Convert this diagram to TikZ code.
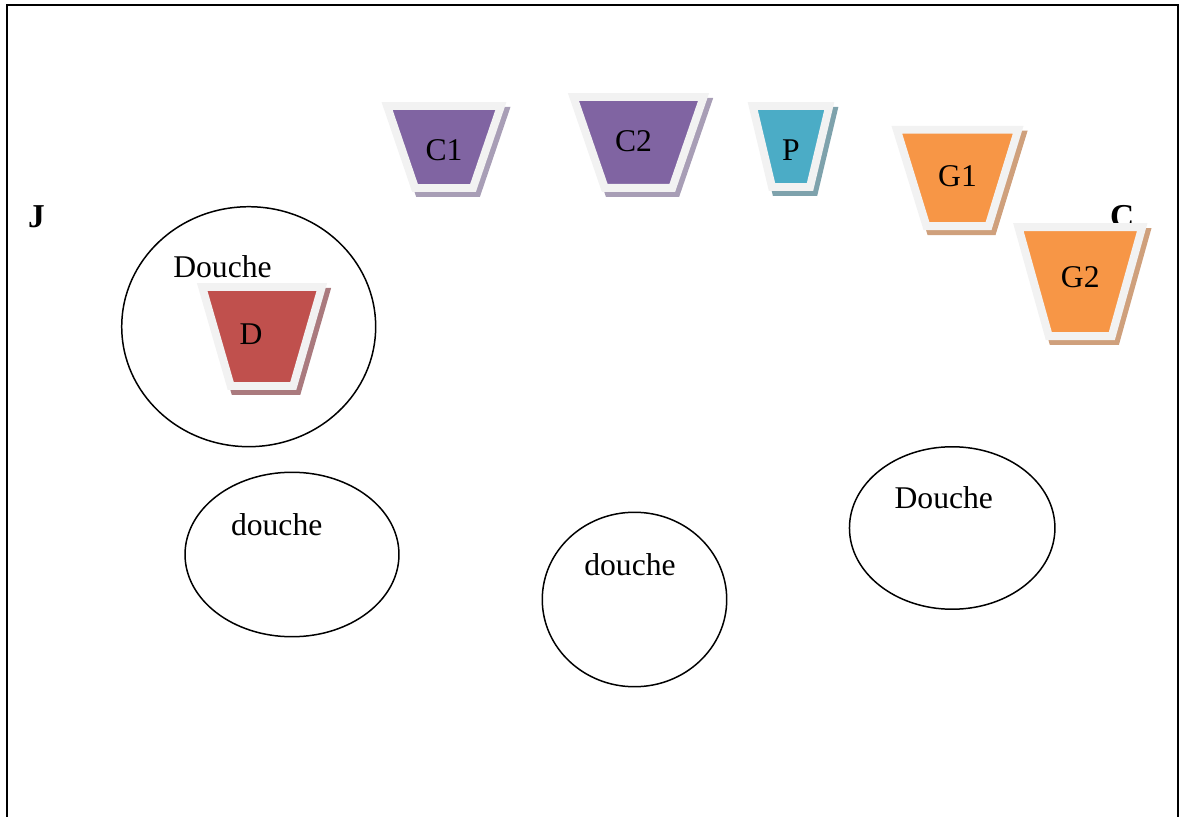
\documentclass[tikz,border=0pt]{standalone}
\usepackage{fontspec}
\setmainfont{Liberation Serif}
\usepackage{tikz}
\usetikzlibrary{shapes.geometric}
\usetikzlibrary{shadows}

\definecolor{bacgris}{HTML}{F2F2F2}
\definecolor{violet}{HTML}{8064A2}
\definecolor{rouge}{HTML}{C0504D}
\definecolor{bleu}{HTML}{4BACC6}
\definecolor{orange}{HTML}{F79646}
\definecolor{ombreviolet}{HTML}{A89EB6}
\definecolor{ombrerouge}{HTML}{AA7A7E}
\definecolor{ombrebleu}{HTML}{7EA2AC}
\definecolor{ombreorange}{HTML}{CFA07C}

\begin{document}
\begin{tikzpicture}[
    x=0.02cm,y=-0.02cm,
    bac/.style={trapezium,shape border rotate=180,draw=bacgris,line width=4.54pt,inner sep=0pt,align=center,font=\fontsize{18}{21}\selectfont},
    ombre/.style={drop shadow={shadow xshift=2.3pt,shadow yshift=-2.8pt,opacity=1,fill=#1,draw=#1}},
    douche/.style={ellipse,draw,line width=0.85pt,inner sep=0pt},
    txt/.style={anchor=base,font=\fontsize{18}{22}\selectfont},
    lettre/.style={anchor=base west,font=\fontsize{19}{22}\selectfont\bfseries},
]
    \useasboundingbox (0,0) rectangle (1180,817);
    \clip (0,0) rectangle (1180,817);
    \draw[line width=1.1pt] (7,5) rectangle (1178,840);

    %walls
    \node[lettre] (j) at (22,228) {J};
    \node[lettre] (c) at (1104,228) {C};

    %showers
    \node[douche,minimum width=5.08cm,minimum height=4.8cm] (s1) at (248.7,326.7) {};
    \node[txt] (t1) at (222.5,278) {Douche};
    \node[douche,minimum width=4.28cm,minimum height=3.29cm] (s2) at (292,554.5) {};
    \node[txt] (t2) at (276.7,535.7) {douche};
    \node[douche,minimum width=3.69cm,minimum height=3.49cm] (s3) at (634.5,599.5) {};
    \node[txt] (t3) at (630,575.7) {douche};
    \node[douche,minimum width=4.11cm,minimum height=3.25cm] (s4) at (952.2,528) {};
    \node[txt] (t4) at (943.8,508.3) {Douche};

    %bins
    \node[bac,ombre=ombrerouge,fill=rouge,text width=1.25cm,text height=1.16cm,text depth=0.82cm,trapezium angle=73.9] (d) at (262,336.5) {\hspace*{-0.44cm}D};
    \node[bac,ombre=ombreviolet,fill=violet,text width=1.16cm,text height=1.1cm,text depth=0.54cm,trapezium angle=71.2] (c1) at (444,147) {C1};
    \node[bac,ombre=ombreviolet,fill=violet,text width=1.35cm,text height=1.09cm,text depth=0.73cm,trapezium angle=71] (c2) at (638.5,142.5) {\hspace*{-0.2cm}C2};
    \node[bac,ombre=ombrebleu,fill=bleu,text width=0.76cm,text height=1.1cm,text depth=0.52cm,trapezium angle=76.6] (p) at (791,146.5) {P};
    \node[bac,ombre=ombreorange,fill=orange,text width=1.24cm,text height=1.14cm,text depth=0.79cm,trapezium angle=72.9] (g1) at (957.5,178) {G1};
    \node[bac,ombre=ombreorange,fill=orange,text width=1.26cm,text height=1.21cm,text depth=0.97cm,trapezium angle=74.4] (g2) at (1080.3,281.6) {G2};
\end{tikzpicture}
\end{document}
